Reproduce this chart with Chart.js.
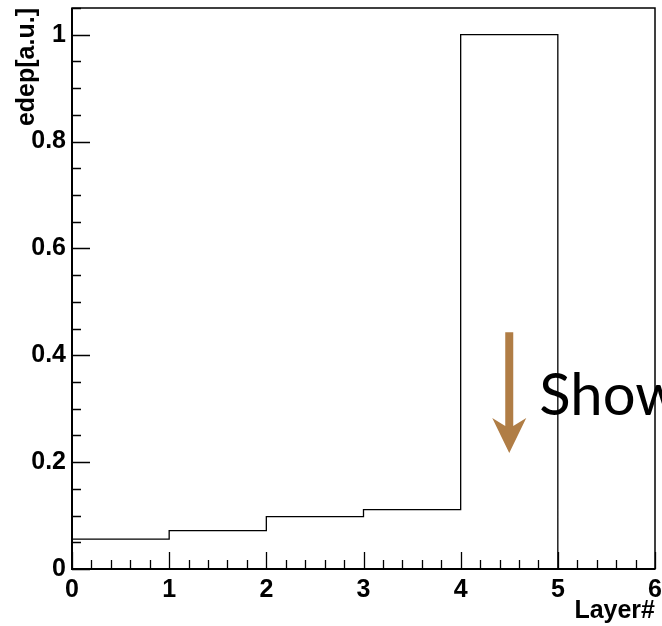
<!DOCTYPE html>
<html>
<head>
<meta charset="utf-8">
<script src="https://cdn.jsdelivr.net/npm/chart.js@4.4.1/dist/chart.umd.min.js"></script>
<style>
  html, body { margin: 0; padding: 0; background: #fff; }
  #wrap { width: 662px; height: 626px; position: relative; }
</style>
</head>
<body>
<div id="wrap"><canvas id="c" width="662" height="626"></canvas></div>
<script>
// ---- data ----
const binLowEdges = [0, 1, 2, 3, 4, 5];
const binContents = [0.056, 0.072, 0.098, 0.111, 1.0, 0.0];
const lastEdge = 6;
const xTickValues = [0, 1, 2, 3, 4, 5, 6];
const xTickLabels = ['0', '1', '2', '3', '4', '5', '6'];
const yTickValues = [0, 0.2, 0.4, 0.6, 0.8, 1.0];
const yTickLabels = ['0', '0.2', '0.4', '0.6', '0.8', '1'];
const xTitle = 'Layer#';
const yTitle = 'edep[a.u.]';
const annotationText = 'Shower';

// annotation placement in data coordinates
const arrowX = 4.5, arrowYStart = 0.443, arrowYTip = 0.217;
const textX = 4.81, textY = 0.288;

// build step points (histogram)
const points = binLowEdges.map((x, i) => ({ x: x, y: binContents[i] }));
points.push({ x: lastEdge, y: binContents[binContents.length - 1] });

const FONT = 'Liberation Sans, Arial, Helvetica, sans-serif';

const rootStyle = {
  id: 'rootStyle',
  afterDraw(chart) {
    const ctx = chart.ctx;
    const xs = chart.scales.x, ys = chart.scales.y;
    const a = chart.chartArea;
    ctx.save();
    // frame
    ctx.strokeStyle = '#000';
    ctx.lineWidth = 1.5;
    ctx.strokeRect(a.left, a.top, a.right - a.left, a.bottom - a.top);
    // x ticks (inside)
    ctx.lineWidth = 1.3;
    ctx.beginPath();
    for (let i = 0; i <= 30; i++) {
      const v = i * 0.2;
      const px = Math.round(xs.getPixelForValue(v)) + 0.5;
      const major = (i % 5 === 0);
      const len = major ? 17 : 9;
      ctx.moveTo(px, a.bottom);
      ctx.lineTo(px, a.bottom - len);
    }
    // y ticks (inside)
    for (let i = 0; i <= 21; i++) {
      const v = i * 0.05;
      const py = Math.round(ys.getPixelForValue(v)) + 0.5;
      const major = (i % 4 === 0);
      const len = major ? 18 : 9;
      ctx.moveTo(a.left, py);
      ctx.lineTo(a.left + len, py);
    }
    ctx.stroke();
    // axes thicker
    ctx.lineWidth = 2;
    ctx.beginPath();
    ctx.moveTo(a.left, a.top); ctx.lineTo(a.left, a.bottom); ctx.lineTo(a.right, a.bottom);
    ctx.stroke();

    // arrow annotation
    const ax = xs.getPixelForValue(arrowX);
    const ay0 = ys.getPixelForValue(arrowYStart);
    const ayTip = ys.getPixelForValue(arrowYTip);
    ctx.fillStyle = '#B07D45';
    const headLen = 35, headHalf = 17, notch = 10, shaftHalf = 4;
    ctx.beginPath();
    ctx.moveTo(ax - shaftHalf, ay0);
    ctx.lineTo(ax + shaftHalf, ay0);
    ctx.lineTo(ax + shaftHalf, ayTip - headLen + notch - 2);
    ctx.lineTo(ax + headHalf, ayTip - headLen);
    ctx.lineTo(ax, ayTip);
    ctx.lineTo(ax - headHalf, ayTip - headLen);
    ctx.lineTo(ax - shaftHalf, ayTip - headLen + notch - 2);
    ctx.closePath();
    ctx.fill();

    // text
    ctx.fillStyle = '#000';
    ctx.font = '58px Lato, "Open Sans", sans-serif';
    ctx.textAlign = 'left';
    ctx.textBaseline = 'alphabetic';
    ctx.fillText(annotationText, xs.getPixelForValue(textX), ys.getPixelForValue(textY));
    ctx.restore();
  }
};

new Chart(document.getElementById('c'), {
  type: 'line',
  data: {
    datasets: [{
      data: points,
      stepped: 'before',
      borderColor: '#000',
      borderWidth: 1.3,
      pointRadius: 0,
      fill: false,
      tension: 0
    }]
  },
  options: {
    responsive: false,
    animation: false,
    devicePixelRatio: 1,
    layout: { padding: { top: 8, right: 7, left: 0, bottom: 0 } },
    plugins: { legend: { display: false }, tooltip: { enabled: false } },
    scales: {
      x: {
        type: 'linear', min: 0, max: 6,
        grid: { display: false, drawTicks: false },
        border: { display: false },
        afterBuildTicks: s => { s.ticks = xTickValues.map(v => ({ value: v })); },
        ticks: {
          autoSkip: false, maxRotation: 0, padding: 6,
          color: '#000',
          font: { family: FONT, size: 25, weight: 'bold' },
          callback: (v) => { const i = xTickValues.indexOf(v); return i >= 0 ? xTickLabels[i] : ''; }
        },
        title: {
          display: true, text: xTitle, align: 'end', color: '#000',
          font: { family: FONT, size: 25, weight: 'bold' },
          padding: { top: 0, bottom: 0 }
        },
        afterFit: s => { s.height = 57; s.paddingLeft = 0; s.paddingRight = 0; }
      },
      y: {
        type: 'linear', min: 0, max: 1.05,
        grid: { display: false, drawTicks: false },
        border: { display: false },
        afterBuildTicks: s => { s.ticks = yTickValues.map(v => ({ value: v })); },
        ticks: {
          autoSkip: false, padding: 6,
          color: '#000',
          font: { family: FONT, size: 25, weight: 'bold' },
          callback: (v) => { const i = yTickValues.indexOf(v); return i >= 0 ? yTickLabels[i] : ''; }
        },
        title: {
          display: true, text: yTitle, align: 'end', color: '#000',
          font: { family: FONT, size: 25, weight: 'bold' },
          padding: { top: 12, bottom: 0 }
        },
        afterFit: s => { s.width = 72; s.paddingTop = 0; s.paddingBottom = 0; }
      }
    }
  },
  plugins: [rootStyle]
});
</script>
</body>
</html>
